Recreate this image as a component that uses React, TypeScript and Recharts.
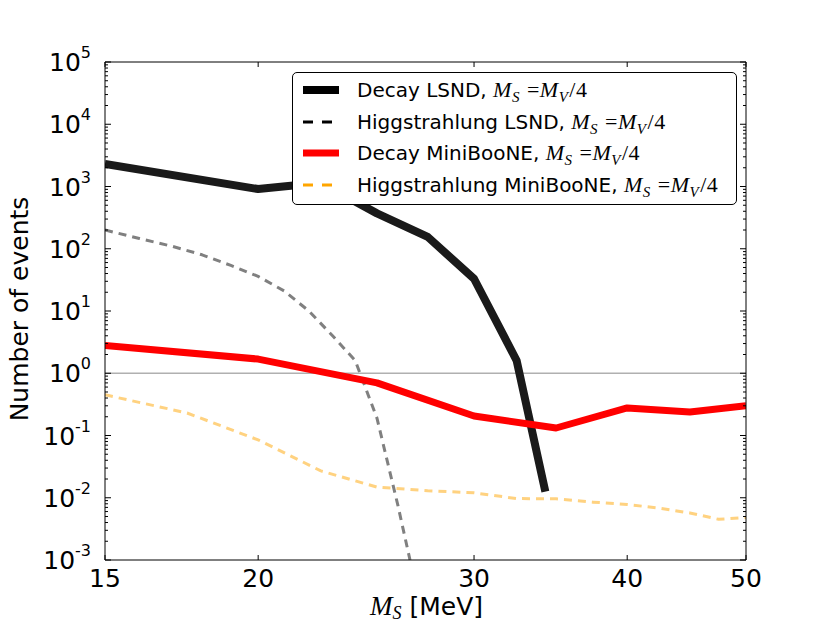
import React from 'react';
import { LineChart, Line, XAxis, YAxis, ReferenceLine, Legend } from 'recharts';

// ---- data ----
const decayLsndX = [15, 20, 22.5, 25, 27.5, 30, 32.5, 34.3];
const decayLsndY = [2300, 910, 1150, 370, 155, 33, 1.6, 0.0125];

const higgsLsndX = [15, 16, 17, 18, 19, 20, 21, 22, 23, 24, 25, 26, 26.6];
const higgsLsndY = [200, 146, 110, 80, 54, 36, 21, 10, 4.0, 1.6, 0.19, 0.0076, 0.001];

const decayMiniX = [15, 20, 25, 30, 35, 40, 45, 50];
const decayMiniY = [2.8, 1.69, 0.7, 0.206, 0.132, 0.277, 0.239, 0.3];

const higgsMiniX = [15, 17.5, 20, 22.5, 25, 27.5, 30, 32.5, 35, 37.5, 40, 42.5, 45, 47.5, 50];
const higgsMiniY = [0.45, 0.23, 0.085, 0.027, 0.0148, 0.013, 0.012, 0.0097, 0.0096, 0.0085, 0.0078, 0.0068, 0.0057, 0.0045, 0.0048];

const xTicks = [15, 20, 30, 40, 50];
const yExponents = [-3, -2, -1, 0, 1, 2, 3, 4];
const yMantissas = [1, 2, 3, 4, 5, 6, 7, 8, 9];
const yTopTick = 1e5;

const legendLabels = ['Decay LSND, ', 'Higgstrahlung LSND, ', 'Decay MiniBooNE, ', 'Higgstrahlung MiniBooNE, '];
const xLabelText = '\u00a0[MeV]';
const yLabelText = 'Number of events';

// ---- derived ----
const toPoints = (xs: number[], ys: number[]) => xs.map((x, i) => ({ x, y: ys[i] }));
const yTicks: number[] = [];
yExponents.forEach((e) => yMantissas.forEach((m) => yTicks.push(m * Math.pow(10, e))));
yTicks.push(yTopTick);

const styles = {
  decayLsnd: { color: '#1a1a1a', width: 8, dash: undefined as string | undefined, legendColor: '#000000' },
  higgsLsnd: { color: '#808080', width: 3, dash: '8 6', legendColor: '#000000' },
  decayMini: { color: '#ff0000', width: 7, dash: undefined as string | undefined, legendColor: '#ff0000' },
  higgsMini: { color: '#ffd280', width: 3, dash: '8 6', legendColor: '#ffa500' },
};
const legendStyles = [styles.decayLsnd, styles.higgsLsnd, styles.decayMini, styles.higgsMini];

const SANS = 'DejaVu Sans, sans-serif';
const SERIF = 'Liberation Serif, serif';

const decompose = (v: number) => {
  const e = Math.floor(Math.log10(v) + 1e-9);
  const m = v / Math.pow(10, e);
  return { e, major: Math.abs(m - 1) < 1e-6 };
};

const LeftTick = (props: any) => {
  const { x, y, payload } = props;
  const { e, major } = decompose(payload.value);
  const len = major ? 6 : 3;
  return (
    <g>
      <line x1={x} x2={x + len} y1={y} y2={y} stroke="#000" strokeWidth={1} />
      {major && (
        <text x={x - 14} y={y + 9} textAnchor="end" fontFamily={SANS} fontSize={25} fill="#000">
          10
          <tspan dy={-13} fontSize={16}>{String(e)}</tspan>
        </text>
      )}
    </g>
  );
};

const RightTick = (props: any) => {
  const { x, y, payload } = props;
  const { major } = decompose(payload.value);
  const len = major ? 6 : 3;
  return <line x1={x} x2={x - len} y1={y} y2={y} stroke="#000" strokeWidth={1} />;
};

const BottomTick = (props: any) => {
  const { x, y, payload } = props;
  return (
    <g>
      <line x1={x} x2={x} y1={y} y2={y - 5} stroke="#000" strokeWidth={1} />
      <text x={x} y={y + 27} textAnchor="middle" fontFamily={SANS} fontSize={25} fill="#000">
        {String(payload.value)}
      </text>
    </g>
  );
};

const TopTick = (props: any) => {
  const { x, y } = props;
  return <line x1={x} x2={x} y1={y} y2={y + 5} stroke="#000" strokeWidth={1} />;
};

const XLabel = (props: any) => {
  const vb = props.viewBox || { x: 105, y: 560, width: 641 };
  const cx = vb.x + vb.width / 2 + 1;
  return (
    <text x={cx} y={vb.y + 55} textAnchor="middle" fill="#000">
      <tspan fontFamily={SERIF} fontStyle="italic" fontSize={27}>M</tspan>
      <tspan fontFamily={SERIF} fontStyle="italic" fontSize={18} dy={4}>S</tspan>
      <tspan fontFamily={SANS} fontSize={25} dy={-4}>{xLabelText}</tspan>
    </text>
  );
};

const YLabel = (props: any) => {
  const vb = props.viewBox || { x: 104, y: 62, width: 1, height: 498 };
  const cx = vb.x + vb.width - 77;
  const cy = vb.y + vb.height / 2 - 2;
  return (
    <text
      x={cx}
      y={cy}
      transform={`rotate(-90 ${cx} ${cy})`}
      textAnchor="middle"
      fontFamily={SANS}
      fontSize={25}
      fill="#000"
    >
      {yLabelText}
    </text>
  );
};

const subStyle: React.CSSProperties = { fontSize: 15, position: 'relative', top: 5, marginRight: 1 };

const MathMs = () => (
  <span style={{ fontFamily: SERIF, fontStyle: 'italic', fontSize: 22, letterSpacing: 0.5 }}>
    M<span style={subStyle}>S</span>
    <span style={{ fontStyle: 'normal' }}>{' ='}</span>M
    <span style={subStyle}>V</span>
    <span style={{ fontStyle: 'normal' }}>/4</span>
  </span>
);

const LegendBox = () => (
  <div
    style={{
      position: 'relative',
      width: 445,
      height: 133,
      boxSizing: 'border-box',
      border: '1px solid #000',
      borderRadius: 5,
      background: '#fff',
    }}
  >
    {legendLabels.map((label, i) => {
      const st = legendStyles[i];
      const cy = 17 + i * 31.6;
      return (
        <div key={i} style={{ position: 'absolute', left: 0, top: cy - 15, height: 30, width: '100%' }}>
          <svg width={40} height={30} style={{ position: 'absolute', left: 9, top: 0 }}>
            <line
              x1={1}
              x2={37}
              y1={15}
              y2={15}
              stroke={st.legendColor}
              strokeWidth={st.width}
              strokeDasharray={st.dash ? '10 9' : undefined}
            />
          </svg>
          <div
            style={{
              position: 'absolute',
              left: 64,
              top: 0,
              height: 30,
              lineHeight: '30px',
              whiteSpace: 'nowrap',
              fontFamily: SANS,
              fontSize: 20,
              color: '#000',
            }}
          >
            {label}
            <MathMs />
          </div>
        </div>
      );
    })}
  </div>
);

const series = [
  { key: 'decayLsnd', data: toPoints(decayLsndX, decayLsndY), st: styles.decayLsnd, name: legendLabels[0] },
  { key: 'higgsLsnd', data: toPoints(higgsLsndX, higgsLsndY), st: styles.higgsLsnd, name: legendLabels[1] },
  { key: 'decayMini', data: toPoints(decayMiniX, decayMiniY), st: styles.decayMini, name: legendLabels[2] },
  { key: 'higgsMini', data: toPoints(higgsMiniX, higgsMiniY), st: styles.higgsMini, name: legendLabels[3] },
];

export default function App() {
  return (
    <div style={{ position: 'absolute', left: 0, top: 0, width: 830, height: 623, background: '#fff' }}>
      <LineChart width={830} height={623} margin={{ top: 61, right: 83, bottom: 62, left: 104 }}>
        <XAxis
          xAxisId="b"
          type="number"
          dataKey="x"
          scale="log"
          domain={[15, 50]}
          allowDataOverflow
          ticks={xTicks}
          interval={0}
          height={1}
          tickSize={0}
          tickMargin={0}
          tickLine={false}
          axisLine={{ stroke: '#000', strokeWidth: 1 }}
          tick={<BottomTick />}
          label={<XLabel />}
        />
        <XAxis
          xAxisId="t"
          orientation="top"
          type="number"
          dataKey="x"
          scale="log"
          domain={[15, 50]}
          allowDataOverflow
          ticks={xTicks}
          interval={0}
          height={1}
          tickSize={0}
          tickMargin={0}
          tickLine={false}
          axisLine={{ stroke: '#000', strokeWidth: 1 }}
          tick={<TopTick />}
        />
        <YAxis
          yAxisId="l"
          type="number"
          dataKey="y"
          scale="log"
          domain={[1e-3, 1e5]}
          allowDataOverflow
          ticks={yTicks}
          interval={0}
          width={1}
          tickSize={0}
          tickMargin={0}
          tickLine={false}
          axisLine={{ stroke: '#000', strokeWidth: 1 }}
          tick={<LeftTick />}
          label={<YLabel />}
        />
        <YAxis
          yAxisId="r"
          orientation="right"
          type="number"
          dataKey="y"
          scale="log"
          domain={[1e-3, 1e5]}
          allowDataOverflow
          ticks={yTicks}
          interval={0}
          width={1}
          tickSize={0}
          tickMargin={0}
          tickLine={false}
          axisLine={{ stroke: '#000', strokeWidth: 1 }}
          tick={<RightTick />}
        />
        <ReferenceLine xAxisId="b" yAxisId="l" y={1} stroke="#b0b0b0" strokeWidth={1.5} />
        {series.map((s) => (
          <Line
            key={s.key}
            xAxisId="b"
            yAxisId="l"
            data={s.data}
            dataKey="y"
            name={s.name}
            type="linear"
            stroke={s.st.color}
            strokeWidth={s.st.width}
            strokeDasharray={s.st.dash}
            strokeLinejoin="round"
            dot={false}
            activeDot={false}
            isAnimationActive={false}
          />
        ))}
        <Legend
          layout="vertical"
          align="center"
          verticalAlign="middle"
          wrapperStyle={{ position: 'absolute', left: 292, top: 72, width: 445, height: 133 }}
          content={() => <LegendBox />}
        />
      </LineChart>
    </div>
  );
}
